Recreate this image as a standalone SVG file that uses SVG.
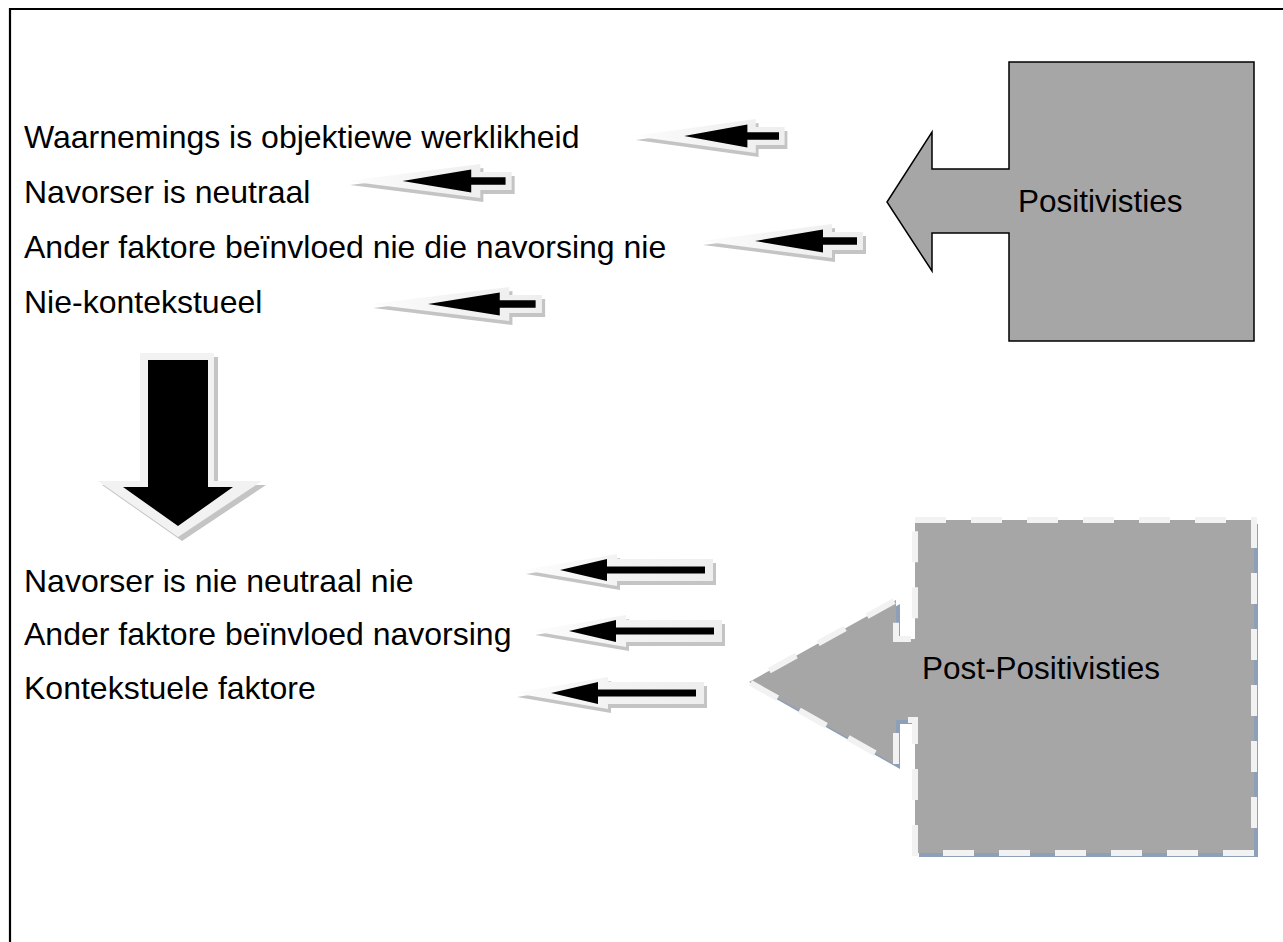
<svg xmlns="http://www.w3.org/2000/svg" xmlns:xlink="http://www.w3.org/1999/xlink" width="1283" height="942" viewBox="0 0 1283 942">
  <style>
    .lbl { font-family: "Liberation Sans", Arial, sans-serif; font-size: 31.5px; fill: #000; }
    .stmt { font-size: 32px; }
    .frame { fill: none; stroke: #000; stroke-width: 2.2; }
    .glow { fill: url(#glowFill); }
    .shade { fill: #c4c4c4; }
    .ink { fill: #000; }
    .callout { fill: #a6a6a6; stroke: #000; stroke-width: 1.5; stroke-linejoin: miter; }
    .callout-dash { fill: #a6a6a6; stroke: #f2f2f2; stroke-width: 6; stroke-dasharray: 31 25; stroke-linejoin: miter; }
    .callout-shadow { fill: #8e9fb8; }
  </style>
  <defs>
    <linearGradient id="glowFill" x1="0" y1="0" x2="1" y2="0">
      <stop offset="0" stop-color="#fdfdfd"/>
      <stop offset="0.5" stop-color="#f3f3f3"/>
      <stop offset="1" stop-color="#eeeeee"/>
    </linearGradient>
    <!-- short pointer: outer tip at the origin, points left -->
    <g id="pointerSmall">
      <polygon class="shade" transform="translate(3,4)" points="0,0 132,-17 132,-9 163,-9 163,9 132,9 132,17"/>
      <polygon class="glow" points="0,0 132,-17 132,-9 163,-9 163,9 132,9 132,17"/>
      <polygon class="ink" points="55,0 123,-11.5 123,-3.8 157,-3.8 157,3.8 123,3.8 123,11.5"/>
    </g>
    <!-- long pointer used in the lower list -->
    <g id="pointerLong">
      <polygon class="shade" transform="translate(3,4)" points="0,0 94,-16 94,-11 190,-11 190,11 94,11 94,16"/>
      <polygon class="glow" points="0,0 94,-16 94,-11 190,-11 190,11 94,11 94,16"/>
      <polygon class="ink" points="37,0 84,-11 84,-3.5 182,-3.5 182,3.5 84,3.5 84,11"/>
    </g>
  </defs>

  <!-- page frame -->
  <path class="frame" d="M10,942 V9 H1283"/>

  <!-- Positivisties callout -->
  <g id="positivisties">
    <polygon class="callout" points="1009,62 1254,62 1254,341 1009,341 1009,233 932,233 932,271 887,202 932,132 932,169 1009,169"/>
    <text class="lbl" x="1018" y="212">Positivisties</text>
  </g>

  <!-- Post-Positivisties callout -->
  <g id="post-positivisties">
    <polygon class="callout-shadow" transform="translate(4,4)" points="915,520 1254,520 1254,853 915,853 915,720 896,720 896,765 749,682 896,600 896,639 915,639"/>
    <polygon class="callout-dash" points="915,520 1254,520 1254,853 915,853 915,720 896,720 896,765 749,682 896,600 896,639 915,639"/>
    <text class="lbl" x="922" y="679">Post-Positivisties</text>
  </g>

  <!-- statements -->
  <g id="stmt-1"><text class="lbl stmt" x="24" y="148">Waarnemings is objektiewe werklikheid</text></g>
  <g id="stmt-2"><text class="lbl stmt" x="24" y="203">Navorser is neutraal</text></g>
  <g id="stmt-3"><text class="lbl stmt" x="24" y="258">Ander faktore beïnvloed nie die navorsing nie</text></g>
  <g id="stmt-4"><text class="lbl stmt" x="24" y="313">Nie-kontekstueel</text></g>
  <g id="stmt-5"><text class="lbl stmt" x="24" y="592">Navorser is nie neutraal nie</text></g>
  <g id="stmt-6"><text class="lbl stmt" x="24" y="645">Ander faktore beïnvloed navorsing</text></g>
  <g id="stmt-7"><text class="lbl stmt" x="24" y="699">Kontekstuele faktore</text></g>

  <!-- connectors -->
  <g id="connectors">
    <use xlink:href="#pointerSmall" transform="translate(633,136) scale(0.93,1)"/>
    <use xlink:href="#pointerSmall" transform="translate(347,181) scale(1.01,1)"/>
    <use xlink:href="#pointerSmall" transform="translate(700,241)"/>
    <use xlink:href="#pointerSmall" transform="translate(370,304) scale(1.055,1)"/>

    <use xlink:href="#pointerLong" transform="translate(523,570)"/>
    <use xlink:href="#pointerLong" transform="translate(532,631)"/>
    <use xlink:href="#pointerLong" transform="translate(514,693)"/>

    <!-- downward transition arrow -->
    <g id="down-arrow">
      <polygon class="shade" transform="translate(4,4)" points="140,353 214,353 214,481 262,481 178,537 98,481 140,481"/>
      <polygon fill="#f2f2f2" points="140,353 214,353 214,481 262,481 178,537 98,481 140,481"/>
      <polygon class="ink" points="148,360 208,360 208,487 233,487 178,526 123,487 148,487"/>
    </g>
  </g>
</svg>
